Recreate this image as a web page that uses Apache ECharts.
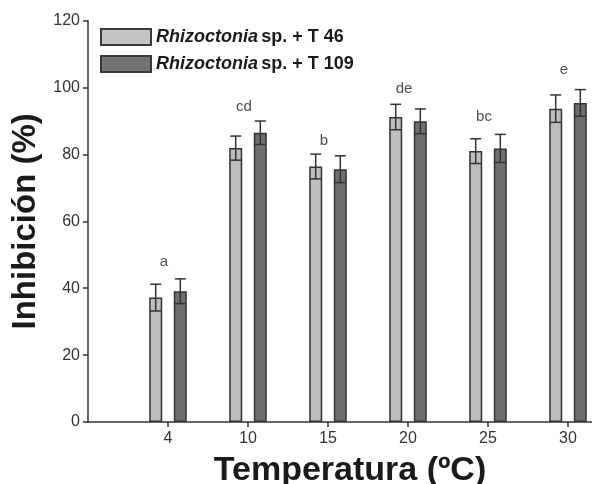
<!DOCTYPE html>
<html>
<head>
<meta charset="utf-8">
<script src="https://cdn.jsdelivr.net/npm/echarts@6/dist/echarts.min.js"></script>
<style>html,body{margin:0;padding:0;background:#fff;}#c{width:592px;height:484px;}</style>
</head>
<body>
<div id="c"></div>
<script>
// Data
var categories = ['4', '10', '15', '20', '25', '30'];
var xPositions = [1, 2, 3, 4, 5, 6];
var t46Mean = [37.2, 81.9, 76.4, 91.2, 81.0, 93.7];
var t46Sd = [4.0, 3.6, 3.7, 3.8, 3.7, 4.1];
var t109Mean = [39.1, 86.5, 75.6, 89.9, 81.8, 95.4];
var t109Sd = [3.7, 3.5, 4.0, 3.7, 4.2, 4.0];
var letters = ['a', 'cd', 'b', 'de', 'bc', 'e'];
var letterHeights = [47.8, 94.1, 84.2, 99.7, 91.3, 105.4];
var yTicks = [0, 20, 40, 60, 80, 100, 120];

var chart = echarts.init(document.getElementById('c'));
var FONT = 'Liberation Sans, Arial, sans-serif';

function barData(means) {
  return xPositions.map(function (x, i) { return [x, means[i]]; });
}
function errData(means, sds) {
  return xPositions.map(function (x, i) { return [x, means[i] - sds[i], means[i] + sds[i]]; });
}
function errRender(offset) {
  return function (params, api) {
    var x = api.value(0);
    var lo = api.coord([x, api.value(1)]);
    var hi = api.coord([x, api.value(2)]);
    var cx = lo[0] + offset;
    var hw = 5.5;
    var st = { stroke: '#333', lineWidth: 1.5 };
    return {
      type: 'group',
      children: [
        { type: 'line', shape: { x1: cx, y1: lo[1], x2: cx, y2: hi[1] }, style: st },
        { type: 'line', shape: { x1: cx - hw, y1: hi[1], x2: cx + hw, y2: hi[1] }, style: st },
        { type: 'line', shape: { x1: cx - hw, y1: lo[1], x2: cx + hw, y2: lo[1] }, style: st }
      ]
    };
  };
}

var legendRich = {
  i: { fontFamily: FONT, fontSize: 18, fontWeight: 'bold', fontStyle: 'italic', color: '#1a1a1a' },
  b: { fontFamily: FONT, fontSize: 18, fontWeight: 'bold', color: '#1a1a1a' }
};

var option = {
  animation: false,
  backgroundColor: '#fff',
  grid: { left: 88, right: 0, top: 20.7, bottom: 62, containLabel: false, outerBoundsMode: 'none' },
  legend: {
    orient: 'vertical',
    left: 95,
    top: 23,
    icon: 'rect',
    itemWidth: 50,
    itemHeight: 16,
    itemGap: 9,
    data: [
      { name: 'T46', itemStyle: { color: '#c4c4c4', borderColor: '#3a3a3a', borderWidth: 2 } },
      { name: 'T109', itemStyle: { color: '#727272', borderColor: '#3a3a3a', borderWidth: 2 } }
    ],
    formatter: function (name) {
      return name === 'T46' ? '{i|Rhizoctonia} {b|sp. + T 46}' : '{i|Rhizoctonia} {b|sp. + T 109}';
    },
    textStyle: { rich: legendRich }
  },
  xAxis: {
    type: 'value',
    min: 0,
    max: 6.3,
    interval: 1,
    name: 'Temperatura (ºC)',
    nameLocation: 'middle',
    nameGap: 32,
    nameTextStyle: { fontFamily: FONT, fontSize: 34, fontWeight: 'bold', color: '#1a1a1a', padding: [0, 0, 0, 20] },
    splitLine: { show: false },
    axisLine: { show: true, lineStyle: { color: '#333', width: 1.5 } },
    axisTick: { show: true, length: 5, customValues: xPositions, lineStyle: { color: '#333', width: 1.5 } },
    axisLabel: {
      customValues: xPositions,
      margin: 9,
      fontFamily: FONT, fontSize: 16, color: '#333',
      formatter: function (v) { var i = xPositions.indexOf(v); return i >= 0 ? categories[i] : ''; }
    }
  },
  yAxis: {
    type: 'value',
    min: 0,
    max: 120,
    interval: 20,
    name: 'Inhibición (%)',
    nameLocation: 'middle',
    nameGap: 44,
    nameTextStyle: { fontFamily: FONT, fontSize: 33, fontWeight: 'bold', color: '#1a1a1a' },
    splitLine: { show: false },
    axisLine: { show: true, lineStyle: { color: '#333', width: 1.5 } },
    axisTick: { show: true, length: 5, lineStyle: { color: '#333', width: 1.5 } },
    axisLabel: {
      margin: 8, fontFamily: FONT, fontSize: 16, color: '#333',
      formatter: function (v) { return yTicks.indexOf(v) >= 0 ? String(v) : ''; }
    }
  },
  series: [
    {
      name: 'T46', type: 'bar', data: barData(t46Mean),
      barWidth: 13, barGap: '89%',
      itemStyle: { color: '#bdbdbd', borderColor: '#333', borderWidth: 1.5 }
    },
    {
      name: 'T109', type: 'bar', data: barData(t109Mean),
      barWidth: 13, barGap: '89%',
      itemStyle: { color: '#6e6e6e', borderColor: '#333', borderWidth: 1.5 }
    },
    {
      type: 'custom', data: errData(t46Mean, t46Sd), renderItem: errRender(-12.3), z: 5,
      encode: { x: 0, y: [1, 2] }
    },
    {
      type: 'custom', data: errData(t109Mean, t109Sd), renderItem: errRender(12.3), z: 5,
      encode: { x: 0, y: [1, 2] }
    },
    {
      type: 'scatter', symbolSize: 0, z: 6,
      data: xPositions.map(function (x, i) { return { name: letters[i], value: [x, letterHeights[i]] }; }),
      label: {
        show: true, position: 'inside', offset: [-4, 0],
        formatter: function (p) { return p.name; },
        fontFamily: FONT, fontSize: 15, color: '#222'
      }
    }
  ]
};
chart.setOption(option);
</script>
</body>
</html>
